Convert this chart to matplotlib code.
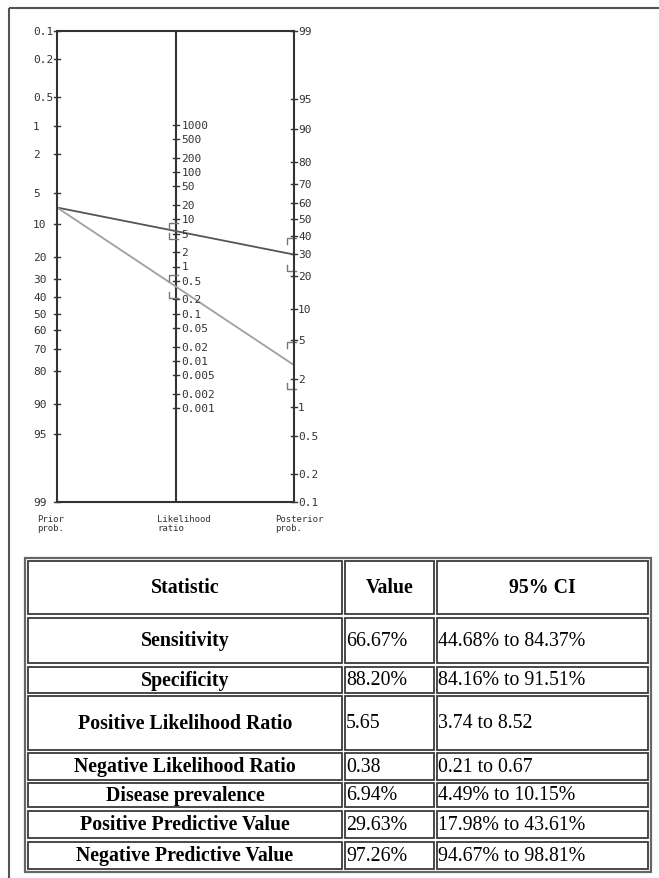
"""Fagan nomogram with diagnostic statistics table."""

import matplotlib
matplotlib.use("Agg")
import matplotlib.pyplot as plt
import numpy as np
from matplotlib.patches import Rectangle

# nomogram scales
prior_ticks = [0.1, 0.2, 0.5, 1, 2, 5, 10, 20, 30, 40, 50, 60, 70, 80, 90, 95, 99]
lr_ticks = [1000, 500, 200, 100, 50, 20, 10, 5, 2, 1, 0.5, 0.2, 0.1, 0.05,
            0.02, 0.01, 0.005, 0.002, 0.001]
post_ticks = [99, 95, 90, 80, 70, 60, 50, 40, 30, 20, 10, 5, 2, 1, 0.5, 0.2, 0.1]
scale_names = ["Prior\nprob.", "Likelihood\nratio", "Posterior\nprob."]

# test results
prevalence = 6.94
lr_pos, lr_pos_ci = 5.65, (3.74, 8.52)
lr_neg, lr_neg_ci = 0.38, (0.21, 0.67)

# table
header = ["Statistic", "Value", "95% CI"]
stat_names = ["Sensitivity", "Specificity", "Positive Likelihood Ratio",
              "Negative Likelihood Ratio", "Disease prevalence",
              "Positive Predictive Value", "Negative Predictive Value"]
stat_values = ["66.67%", "88.20%", "5.65", "0.38", "6.94%", "29.63%", "97.26%"]
stat_cis = ["44.68% to 84.37%", "84.16% to 91.51%", "3.74 to 8.52", "0.21 to 0.67",
            "4.49% to 10.15%", "17.98% to 43.61%", "94.67% to 98.81%"]


def logit(p):
    return np.log(p / (1 - p))


W, H = 659, 879
fig = plt.figure(figsize=(W / 100, H / 100), dpi=100)
fig.patch.set_facecolor("white")

# background axes in pixel units for frame + table
bg = fig.add_axes([0, 0, 1, 1])
bg.set_xlim(0, W)
bg.set_ylim(H, 0)
bg.axis("off")
bg.plot([9, 9], [H, 9], color="#555", lw=1.5, solid_capstyle="butt")
bg.plot([9, W], [9, 9], color="#555", lw=1.5, solid_capstyle="butt")

# ---- nomogram ----
AX_L, AX_T, AX_W, AX_H = 57, 32, 237, 471
ax = fig.add_axes([AX_L / W, 1 - (AX_T + AX_H) / H, AX_W / W, AX_H / H])
y_top, y_bot = logit(0.001), logit(0.99)
c = y_top + y_bot
ax.set_xlim(0, 2)
ax.set_ylim(y_bot, y_top)
ax.set_xticks([])
ax.set_yticks([])
ax.patch.set_alpha(0)
for sp in ax.spines.values():
    sp.set_color("#333")
    sp.set_linewidth(1.5)
ax.axvline(1, color="#333", lw=1.5)

dx = 2 / AX_W
dy = (y_bot - y_top) / AX_H
tick_font = dict(family="DejaVu Sans Mono", fontsize=8, color="#333", va="center", ha="left")


def left_y(p):
    return logit(np.asarray(p) / 100)


def right_y(p):
    return c - logit(np.asarray(p) / 100)


def mid_y(lr):
    return (c - np.log(lr)) / 2


for p in prior_ticks:
    y = left_y(p)
    ax.plot([-3 * dx, 3 * dx], [y, y], color="#333", lw=1, clip_on=False)
    ax.text(-24 * dx, y, f"{p:g}", clip_on=False, **tick_font)
for lr in lr_ticks:
    y = mid_y(lr)
    ax.plot([1 - 3 * dx, 1 + 3 * dx], [y, y], color="#333", lw=1)
    ax.text(1 + 6 * dx, y, f"{lr:g}", **tick_font)
for p in post_ticks:
    y = right_y(p)
    ax.plot([2 - 3 * dx, 2 + 3 * dx], [y, y], color="#333", lw=1, clip_on=False)
    ax.text(2 + 4 * dx, y, f"{p:g}", clip_on=False, **tick_font)

for x, name in zip([-20 * dx, 1 - 18 * dx, 2 - 19 * dx], scale_names):
    ax.text(x, -21 / AX_H, name, transform=ax.get_xaxis_transform(),
            family="DejaVu Sans Mono", fontsize=6.5, color="#333",
            ha="left", va="center", linespacing=0.95, clip_on=False)


def bracket(x, y, hook):
    # horizontal bar left of the axis with a short hook toward the estimate
    xs = [x - 7 * dx, x - 7 * dx, x + 2 * dx]
    ys = [y + hook * 6 * dy, y, y]
    ax.plot(xs, ys, color="#777", lw=1, clip_on=False)


prior_y = left_y(prevalence)
for lr, ci, col in [(lr_pos, lr_pos_ci, "#555"), (lr_neg, lr_neg_ci, "#a0a0a0")]:
    post_end = c - prior_y - np.log(lr)
    ax.plot([0, 2], [prior_y, post_end], color=col, lw=1.3)
    lo, hi = ci
    bracket(1, mid_y(hi), 1)
    bracket(1, mid_y(lo), -1)
    bracket(2, c - prior_y - np.log(hi), 1)
    bracket(2, c - prior_y - np.log(lo), -1)

# ---- table ----
col_edges = [(28, 342), (344.5, 434), (437, 648)]
row_edges = [(562, 615), (619, 664), (668, 694), (697, 751), (754, 781),
             (784, 808), (812, 839), (843, 870)]
bg.add_patch(Rectangle((24.5, 559), 651 - 24.5, 873 - 559, fill=False,
                       edgecolor="#666", lw=1.6))
serif = "Liberation Serif"
fs = 14.3
for r, (top, bot) in enumerate(row_edges):
    for cidx, (left, right) in enumerate(col_edges):
        bg.add_patch(Rectangle((left, top), right - left, bot - top, fill=False,
                               edgecolor="#3a3a3a", lw=1.3))
    yc = (top + bot) / 2
    if r == 0:
        for (left, right), txt in zip(col_edges, header):
            bg.text((left + right) / 2, yc, txt, family=serif, fontsize=fs,
                    weight="bold", ha="center", va="center")
    else:
        (l0, r0), (l1, _), (l2, _) = col_edges
        bg.text((l0 + r0) / 2, yc, stat_names[r - 1], family=serif, fontsize=fs,
                weight="bold", ha="center", va="center")
        bg.text(l1 + 1.5, yc, stat_values[r - 1], family=serif, fontsize=fs,
                ha="left", va="center")
        bg.text(l2 + 1.5, yc, stat_cis[r - 1], family=serif, fontsize=fs,
                ha="left", va="center")

fig.savefig("out.png", dpi=100, facecolor="white")
